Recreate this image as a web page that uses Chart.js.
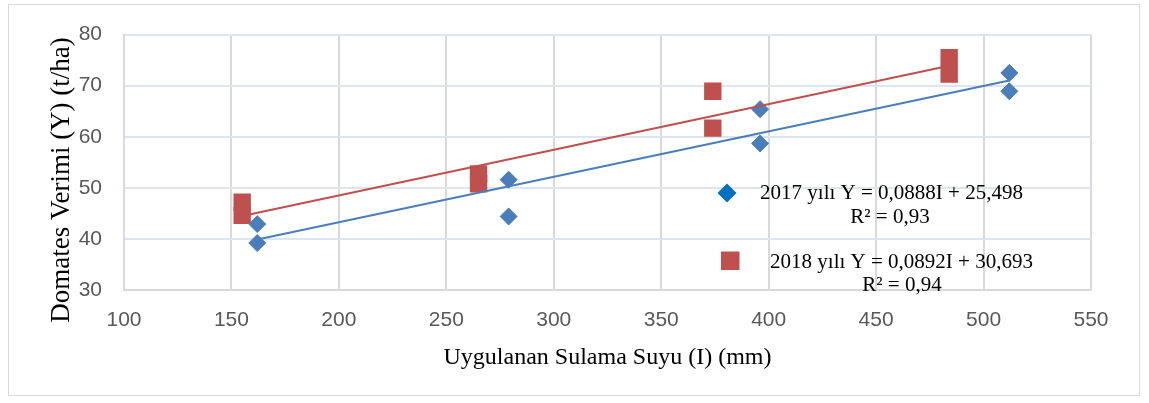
<!DOCTYPE html>
<html>
<head>
<meta charset="utf-8">
<script src="https://cdn.jsdelivr.net/npm/chart.js@4.4.0/dist/chart.umd.min.js"></script>
<style>
  html, body { margin: 0; padding: 0; background: #fff; }
  #wrap { width: 1149px; height: 403px; position: relative; }
</style>
</head>
<body>
<div id="wrap"><canvas id="scatterChart" width="1149" height="403"></canvas></div>
<script>
// values
const irrigation2017 = [162, 162, 279, 279, 396, 396, 512, 512];
const yield2017 = [42.9, 39.2, 51.6, 44.4, 65.4, 58.7, 72.5, 68.9];
const irrigation2018 = [155, 155, 265, 265, 374, 374, 484, 484];
const yield2018 = [47.2, 44.6, 52.7, 50.8, 68.9, 61.7, 75.5, 72.3];

// trend line ends (from the equations shown in the legend)
const trendX2017 = [162, 512];
const trendY2017 = [39.9, 71.0];
const trendX2018 = [155, 484];
const trendY2018 = [44.5, 73.9];

const seriesNames = ["2017 yılı", "2018 yılı"];
const equations = ["Y = 0,0888I + 25,498", "Y = 0,0892I + 30,693"];
const rSquared = ["R² = 0,93", "R² = 0,94"];

const xTitle = "Uygulanan Sulama Suyu (I) (mm)";
const yTitle = "Domates Verimi (Y) (t/ha)";

const toPoints = (xs, ys) => xs.map((x, i) => ({ x: x, y: ys[i] }));

const blue = "#4a7ebb";
const red = "#c0504d";
const serif = "'Liberation Serif', 'Times New Roman', serif";

const frame = {
  id: "frame",
  beforeDraw(chart) {
    const c = chart.ctx;
    c.save();
    c.fillStyle = "#fff";
    c.fillRect(0, 0, chart.width, chart.height);
    c.strokeStyle = "#d9d9d9";
    c.lineWidth = 1;
    c.strokeRect(8.5, 4.5, 1131, 391);
    c.restore();
  },
  afterDraw(chart) {
    // y title sits a bit below the middle of the axis in the original
    const c = chart.ctx;
    c.save();
    c.translate(62, 180);
    c.rotate(-Math.PI / 2);
    c.font = "27px " + serif;
    c.fillStyle = "#000";
    c.textAlign = "center";
    c.textBaseline = "middle";
    c.fillText(yTitle, 0, 0);
    c.restore();
  },
};

// legend sits inside the plot, drawn by hand
const eqLegend = {
  id: "eqLegend",
  afterDatasetsDraw(chart) {
    const c = chart.ctx;
    c.save();
    c.font = "21px " + serif;
    c.textAlign = "center";
    c.textBaseline = "middle";

    // 2017
    c.fillStyle = "#0070c0";
    c.beginPath();
    c.moveTo(727, 183.5);
    c.lineTo(736.5, 193);
    c.lineTo(727, 202.5);
    c.lineTo(717.5, 193);
    c.closePath();
    c.fill();
    c.fillStyle = "#000";
    c.fillText(seriesNames[0] + " " + equations[0], 891.5, 193);
    c.fillText(rSquared[0], 890, 217);

    // 2018
    c.fillStyle = red;
    c.fillRect(721, 251.5, 18.5, 18.5);
    c.fillStyle = "#000";
    c.fillText(seriesNames[1] + " " + equations[1], 901.5, 262);
    c.fillText(rSquared[1], 902, 285);
    c.restore();
  },
};

var ctx = document.getElementById("scatterChart").getContext("2d");
var myChart = new Chart(ctx, {
  type: "scatter",
  data: {
    datasets: [
      {
        label: "Trend 2017",
        type: "line",
        data: toPoints(trendX2017, trendY2017),
        borderColor: blue,
        borderWidth: 2,
        pointRadius: 0,
        fill: false,
      },
      {
        label: "Trend 2018",
        type: "line",
        data: toPoints(trendX2018, trendY2018),
        borderColor: red,
        borderWidth: 2,
        pointRadius: 0,
        fill: false,
      },
      {
        label: seriesNames[0],
        data: toPoints(irrigation2017, yield2017),
        pointStyle: "rectRot",
        pointRadius: 8.5,
        backgroundColor: blue,
        borderColor: blue,
        borderWidth: 1,
      },
      {
        label: seriesNames[1],
        data: toPoints(irrigation2018, yield2018),
        pointStyle: "rect",
        pointRadius: 12.3,
        backgroundColor: red,
        borderColor: red,
        borderWidth: 0,
      },
    ],
  },
  options: {
    responsive: false,
    animation: false,
    layout: {
      padding: { top: 33, right: 58, left: 0, bottom: 0 },
    },
    plugins: {
      legend: { display: false },
      tooltip: { enabled: false },
    },
    scales: {
      x: {
        type: "linear",
        min: 100,
        max: 550,
        afterFit: (scale) => {
          scale.height = 113;
        },
        ticks: {
          stepSize: 50,
          padding: 18,
          color: "#595959",
          font: { family: "'Liberation Sans', Arial, sans-serif", size: 21 },
        },
        grid: { color: "#d9d9d9", lineWidth: 2, drawTicks: false },
        border: { color: "#d9d9d9", width: 2 },
        title: {
          display: true,
          text: xTitle,
          color: "#000",
          font: { family: serif, size: 24 },
          padding: { top: 0, bottom: 31 },
        },
      },
      y: {
        min: 30,
        max: 80,
        afterFit: (scale) => {
          scale.width = 124;
        },
        ticks: {
          stepSize: 10,
          padding: 22,
          color: "#595959",
          font: { family: "'Liberation Sans', Arial, sans-serif", size: 21 },
        },
        grid: { color: "#dce6f2", lineWidth: 2, drawTicks: false },
        border: { color: "#d9d9d9", width: 2 },
        title: { display: false },
      },
    },
  },
  plugins: [frame, eqLegend],
});
</script>
</body>
</html>
